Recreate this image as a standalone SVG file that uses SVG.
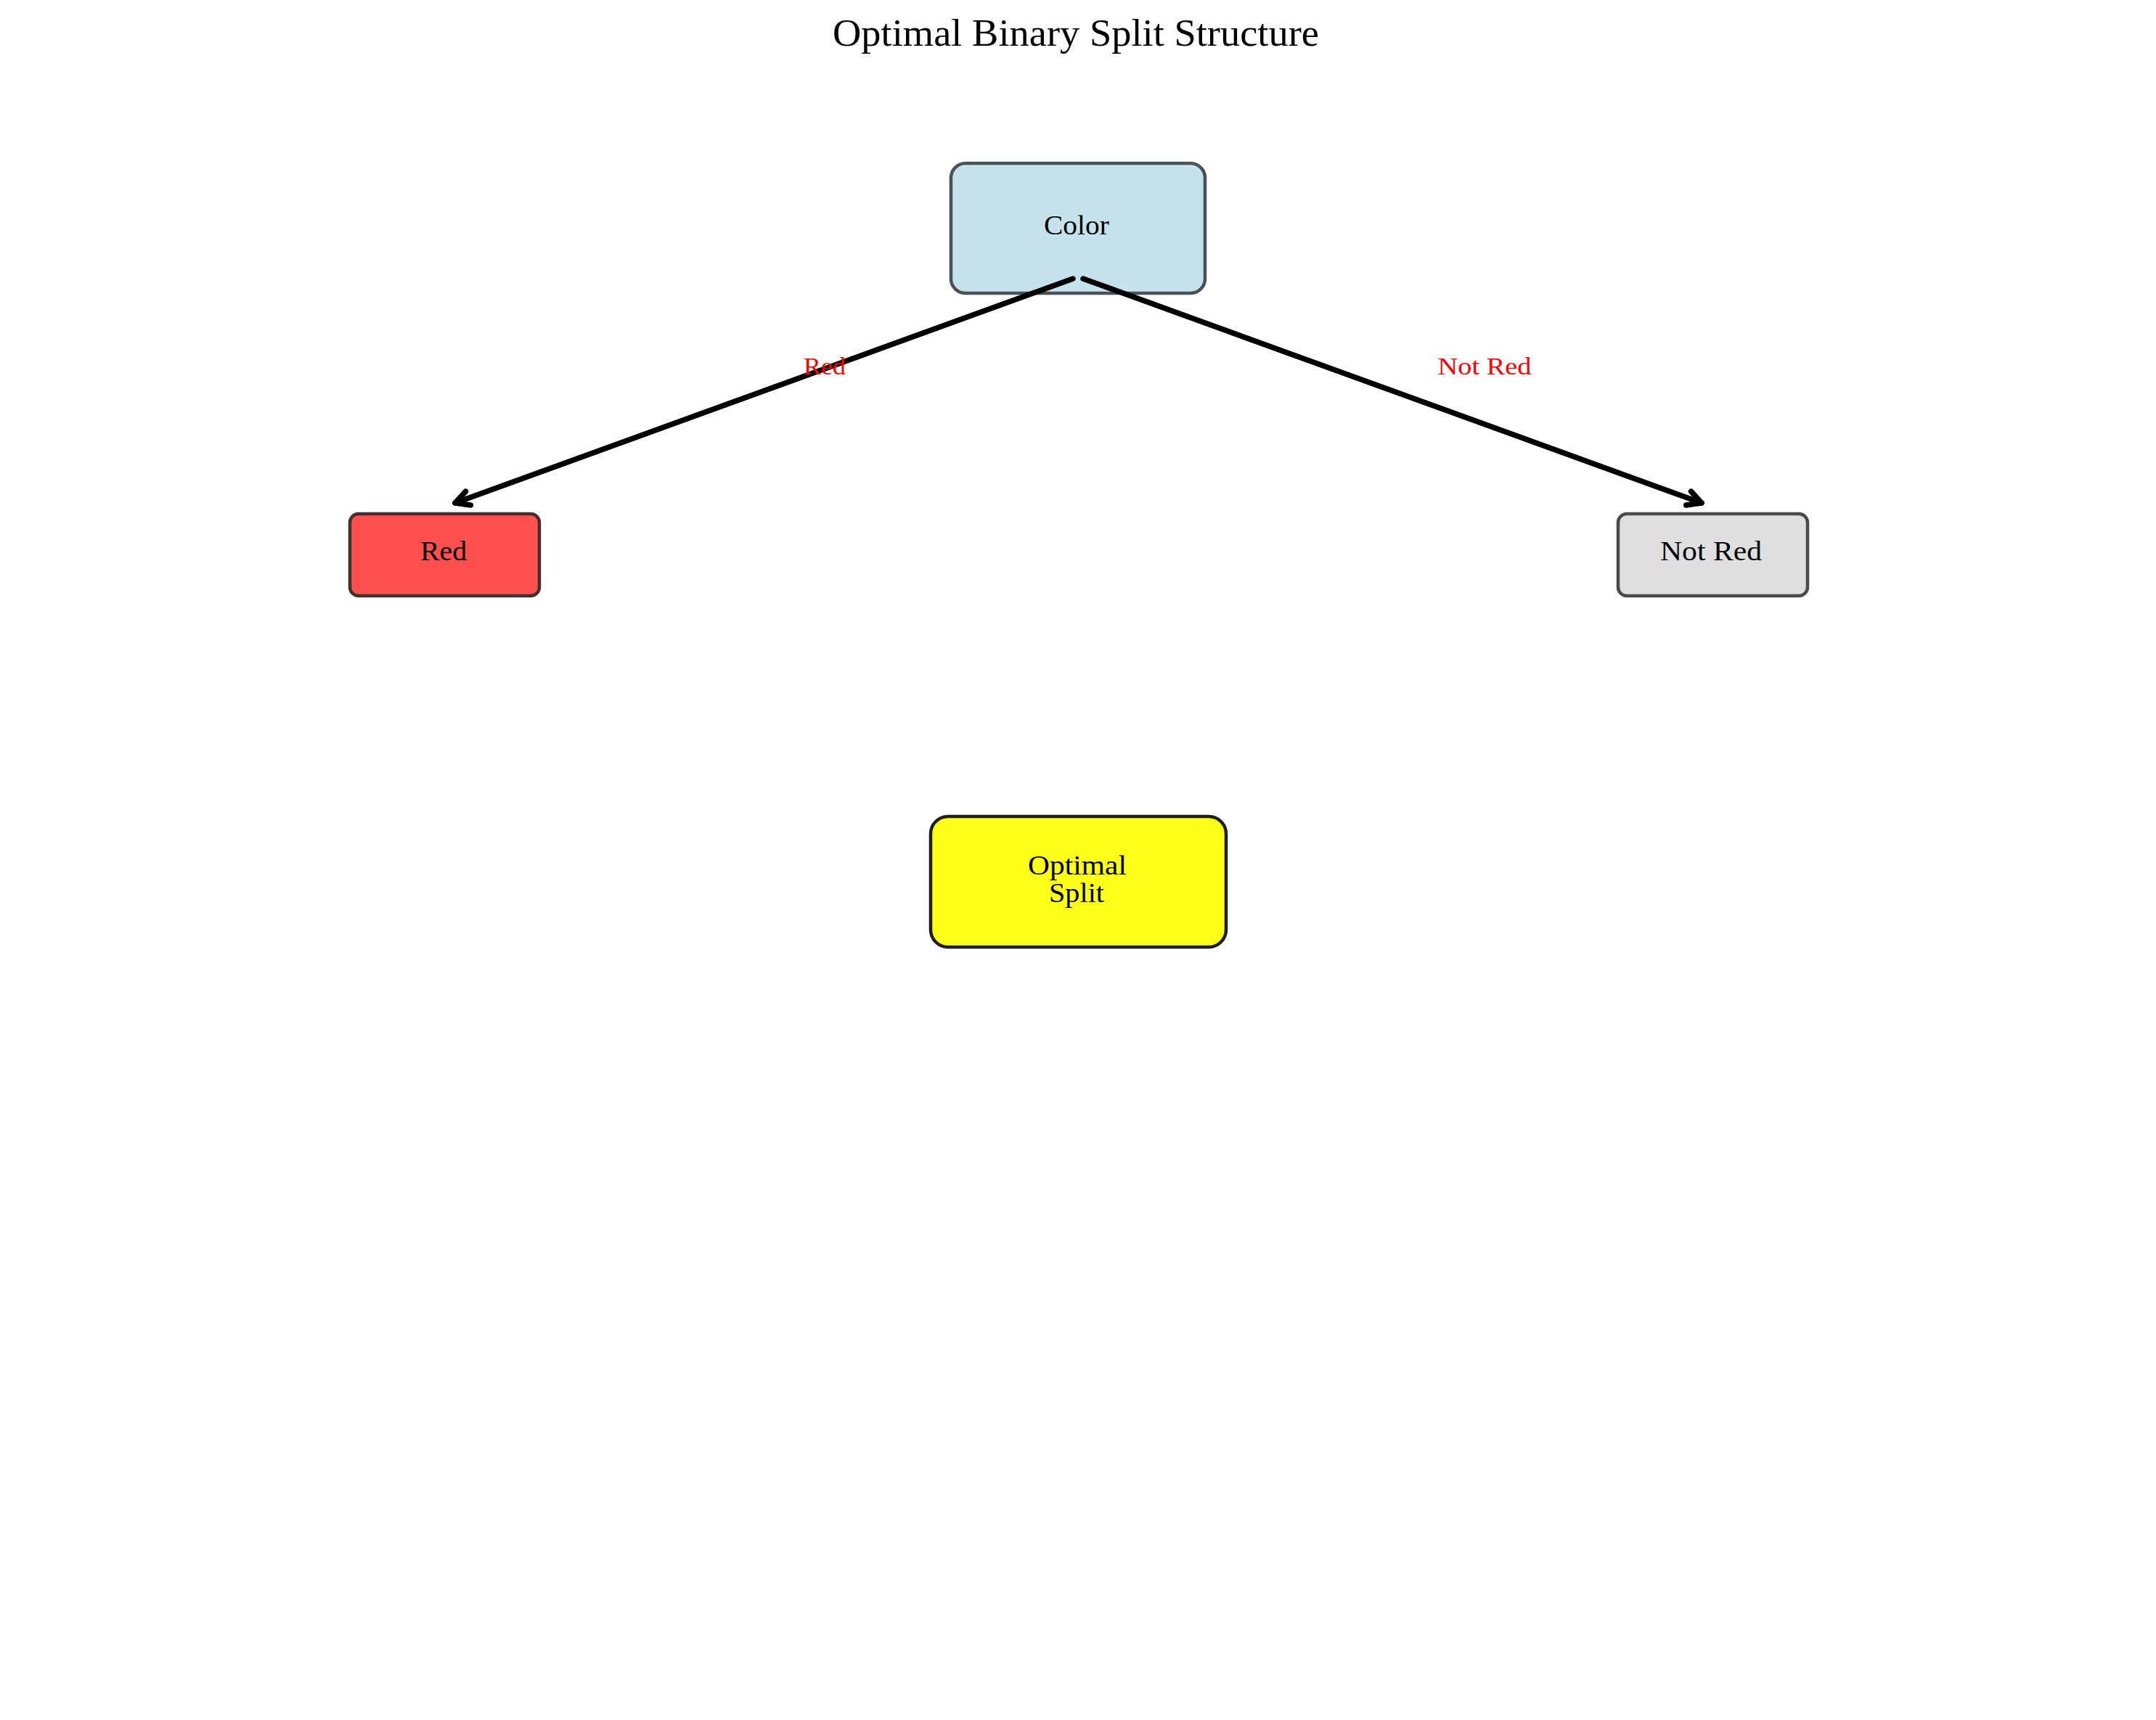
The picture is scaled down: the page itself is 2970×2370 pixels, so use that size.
<svg xmlns="http://www.w3.org/2000/svg" width="2970" height="2370" viewBox="0 0 2970 2370">
<style>
text{font-family:"Liberation Serif","DejaVu Serif",serif;text-anchor:middle;}
.title{font-size:52px;fill:#000;}
.ntext{font-size:38px;fill:#000;}
.elabel{font-size:33px;fill:#ff0000;}
.node{stroke-width:4.5;}
.edge{stroke:#000;stroke-width:7.5;fill:none;stroke-linecap:round;}
</style>
<defs>
<marker id="arr" markerUnits="userSpaceOnUse" markerWidth="40" markerHeight="40" viewBox="-30 -20 40 40" refX="0" refY="0" orient="auto" overflow="visible">
<path d="M-19,-10 L0,0 L-19,10" fill="none" stroke="#000" stroke-width="7.5" stroke-linecap="round" stroke-linejoin="round"/>
</marker>
</defs>
<rect width="2970" height="2370" fill="#fff"/>
<text class="title" x="1482" y="63" textLength="670" lengthAdjust="spacingAndGlyphs">Optimal Binary Split Structure</text>
<g id="node-color">
<rect class="node" x="1310" y="225" width="350" height="179" rx="20" fill="#c5e3ec" stroke="#4a5256"/>
<text class="ntext" x="1483" y="323" textLength="90" lengthAdjust="spacingAndGlyphs">Color</text>
</g>
<g id="node-red">
<rect class="node" x="482" y="708" width="261" height="113" rx="12" fill="#ff4f4f" stroke="#433030"/>
<text class="ntext" x="611" y="772" textLength="64" lengthAdjust="spacingAndGlyphs">Red</text>
</g>
<g id="node-notred">
<rect class="node" x="2229" y="708" width="261" height="113" rx="12" fill="#dfdfdf" stroke="#4a4a4a"/>
<text class="ntext" x="2357" y="772" textLength="140" lengthAdjust="spacingAndGlyphs">Not Red</text>
</g>
<g id="node-optimal">
<rect class="node" x="1282" y="1125" width="407" height="180" rx="24" fill="#ffff1a" stroke="#1e1e1e"/>
<text class="ntext" x="1484" y="1205" textLength="136" lengthAdjust="spacingAndGlyphs">Optimal</text>
<text class="ntext" x="1483" y="1243" textLength="76" lengthAdjust="spacingAndGlyphs">Split</text>
</g>
<g id="connectors">
<line class="edge" x1="1478" y1="384" x2="627" y2="693" marker-end="url(#arr)"/>
<line class="edge" x1="1492" y1="384" x2="2344" y2="693" marker-end="url(#arr)"/>
<text class="elabel" x="1136" y="516" textLength="58" lengthAdjust="spacingAndGlyphs">Red</text>
<text class="elabel" x="2045" y="516" textLength="129" lengthAdjust="spacingAndGlyphs">Not Red</text>
</g>
</svg>
